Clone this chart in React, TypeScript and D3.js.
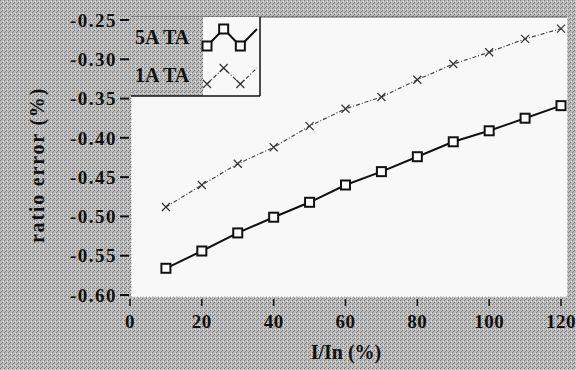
import React from 'react';
import * as d3 from 'd3';

// chart values
const current = [10, 20, 30, 40, 50, 60, 70, 80, 90, 100, 110, 120];
const ta5A = [-0.566, -0.544, -0.521, -0.501, -0.482, -0.460, -0.443, -0.424, -0.405, -0.391, -0.375, -0.359];
const ta1A = [-0.488, -0.460, -0.433, -0.412, -0.385, -0.363, -0.348, -0.326, -0.306, -0.291, -0.274, -0.261];
const yTicks = [-0.25, -0.30, -0.35, -0.40, -0.45, -0.50, -0.55, -0.60];
const xTicks = [0, 20, 40, 60, 80, 100, 120];
const seriesNames = ['5A TA', '1A TA'];

const width = 576;
const height = 370;
const plot = { left: 131, right: 567, top: 17, bottom: 297 };
const serif = '"Liberation Serif", "DejaVu Serif", serif';

const x = d3.scaleLinear().domain([0, 120]).range([130, 561]);
const y = d3.scaleLinear().domain([-0.60, -0.25]).range([295, 20]);

const line = d3.line<[number, number]>()
  .x(d => x(d[0]))
  .y(d => y(d[1]));

const Square = ({ cx, cy }: { cx: number; cy: number }) => (
  <rect x={cx - 4.5} y={cy - 4.5} width={9} height={9} fill="#fff" stroke="#111" strokeWidth={2} />
);

const Cross = ({ cx, cy }: { cx: number; cy: number }) => (
  <path d={`M${cx - 4},${cy - 4}L${cx + 4},${cy + 4}M${cx - 4},${cy + 4}L${cx + 4},${cy - 4}`}
    stroke="#333" strokeWidth={1.2} fill="none" />
);

export default function App() {
  const pts5 = current.map((c, i) => [c, ta5A[i]] as [number, number]);
  const pts1 = current.map((c, i) => [c, ta1A[i]] as [number, number]);

  // legend sample area: small zigzag drawn in its own little scale
  const lx = d3.scaleLinear().domain([0, 3]).range([207, 257]);
  const legendZig = [1, 0, 1, 0];
  const ly5 = d3.scaleLinear().domain([0, 1]).range([29, 46]);
  const ly1 = d3.scaleLinear().domain([0, 1]).range([68, 84]);
  const zig5 = legendZig.map((v, i) => [lx(i), ly5(v)] as [number, number]);
  const zig1 = legendZig.map((v, i) => [lx(i), ly1(v)] as [number, number]);
  const plain = d3.line();

  return (
    <svg width={width} height={height} style={{ position: 'absolute', left: 0, top: 0, display: 'block' }}>
      <defs>
        <pattern id="dither" width="4" height="4" patternUnits="userSpaceOnUse">
          <rect width="4" height="4" fill="#bcbcbc" />
          <rect x="0" y="0" width="1" height="1" fill="#6e6e6e" />
          <rect x="2" y="2" width="1" height="1" fill="#6e6e6e" />
          <rect x="1" y="3" width="1" height="1" fill="#888" />
          <rect x="3" y="1" width="1" height="1" fill="#e4e4e4" />
        </pattern>
      </defs>
      <rect width={width} height={height} fill="url(#dither)" />

      {/* plot area */}
      <rect x={plot.left} y={plot.top} width={plot.right - plot.left} height={plot.bottom - plot.top}
        fill="#f8f8f8" />
      <line x1={plot.left} x2={plot.right} y1={plot.top} y2={plot.top} stroke="#555" strokeWidth={1} />
      <line x1={plot.left} x2={plot.left} y1={plot.top} y2={plot.bottom} stroke="#999" strokeWidth={1} strokeDasharray="1,2" />
      <line x1={plot.left} x2={plot.right} y1={plot.bottom} y2={plot.bottom} stroke="#999" strokeWidth={1} strokeDasharray="1,2" />

      {/* y axis */}
      {yTicks.map(t => (
        <g key={t}>
          <line x1={120} x2={129} y1={y(t)} y2={y(t)} stroke="#111" strokeWidth={2} />
          <text x={117} y={y(t)} dy="0.35em" textAnchor="end" fontFamily={serif} fontWeight="bold"
            fontSize={19} letterSpacing={1.5} fill="#111">{`-${Math.abs(t).toFixed(2)}`}</text>
        </g>
      ))}
      <text transform={`translate(44,${(plot.top + plot.bottom) / 2 + 8}) rotate(-90)`} textAnchor="middle"
        fontFamily={serif} fontWeight="bold" fontSize={20} letterSpacing={1.8} fill="#111">ratio error (%)</text>

      {/* x axis */}
      {xTicks.map(t => (
        <g key={t}>
          <line x1={x(t)} x2={x(t)} y1={plot.bottom + 2} y2={plot.bottom + 9} stroke="#111" strokeWidth={1.5} />
          <text x={x(t)} y={321} dy="0.35em" textAnchor="middle" fontFamily={serif} fontWeight="bold"
            fontSize={19} letterSpacing={0.5} fill="#111">{t}</text>
        </g>
      ))}
      <text x={346} y={352} dy="0.35em" textAnchor="middle" fontFamily={serif} fontSize={20}
        fontWeight="bold" fill="#111">I/In (%)</text>

      {/* 1A TA series */}
      <path d={line(pts1) || ''} fill="none" stroke="#444" strokeWidth={1.2} strokeDasharray="4,2,1,2" />
      {pts1.map((p, i) => <Cross key={i} cx={x(p[0])} cy={y(p[1])} />)}

      {/* 5A TA series */}
      <path d={line(pts5) || ''} fill="none" stroke="#111" strokeWidth={2} />
      {pts5.map((p, i) => <Square key={i} cx={x(p[0])} cy={y(p[1])} />)}

      {/* legend */}
      <rect x={plot.left} y={plot.top} width={72} height={79} fill="url(#dither)" />
      <rect x={203} y={plot.top} width={57} height={79} fill="#f8f8f8" />
      <line x1={plot.left} x2={260} y1={96} y2={96} stroke="#111" strokeWidth={1.5} />
      <line x1={260} x2={260} y1={plot.top} y2={96} stroke="#111" strokeWidth={1.5} />
      <text x={135} y={37} dy="0.35em" fontFamily={serif} fontWeight="bold" fontSize={20} fill="#111">{seriesNames[0]}</text>
      <text x={135} y={75} dy="0.35em" fontFamily={serif} fontWeight="bold" fontSize={20} fill="#111">{seriesNames[1]}</text>
      <path d={plain(zig5) || ''} fill="none" stroke="#111" strokeWidth={2} />
      {zig5.slice(0, 3).map((p, i) => <Square key={i} cx={p[0]} cy={p[1]} />)}
      <path d={plain(zig1) || ''} fill="none" stroke="#444" strokeWidth={1.2} strokeDasharray="4,2,1,2" />
      {zig1.slice(0, 3).map((p, i) => <Cross key={i} cx={p[0]} cy={p[1]} />)}
    </svg>
  );
}
